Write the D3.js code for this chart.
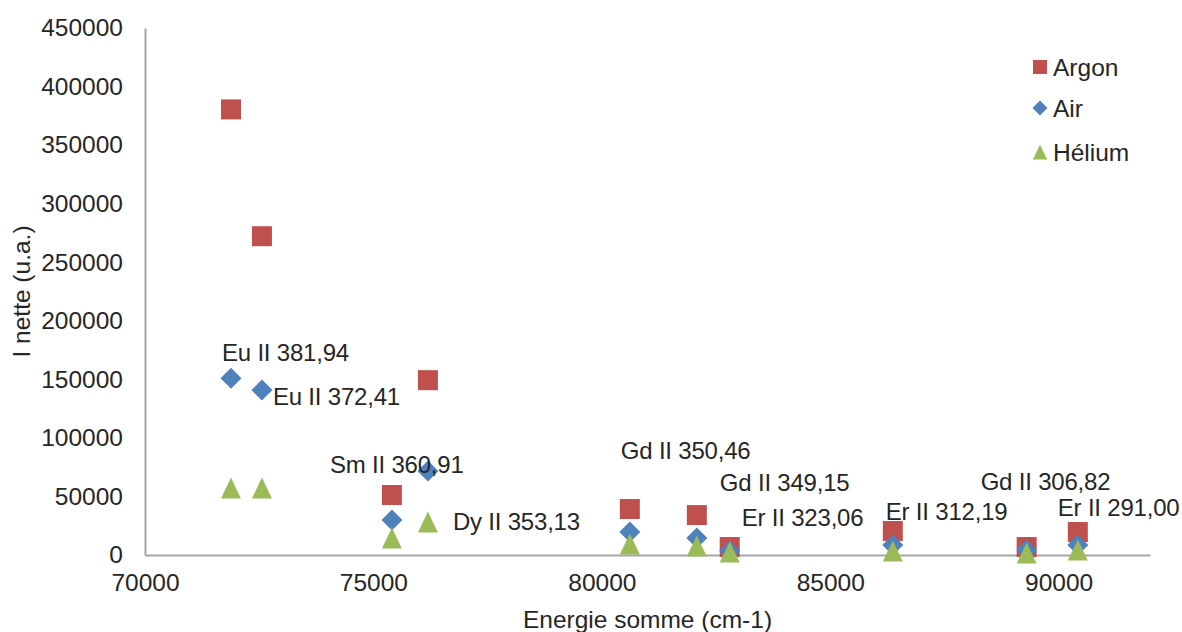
<!DOCTYPE html>
<html><head><meta charset="utf-8">
<script src="https://cdn.jsdelivr.net/npm/d3@7"></script>
<style>
html,body{margin:0;padding:0;background:#fff;}
text{font-family:"Liberation Sans",Arial,sans-serif;fill:#262626;}
</style></head>
<body><svg id="c" width="1182" height="632"></svg>
<script>
// ---- data ----
const energies = [71882, 72560, 76193, 75405, 80613, 82080, 82800, 86370, 89300, 90420];
const argon    = [380500, 272200, 149300, 51200, 39250, 34100, 6800, 20500, 6800, 19600];
const air      = [151000, 140800, 71700, 29900, 19600, 14500, 3400, 8500, 4300, 8500];
const helium   = [57200, 57200, 28200, 14500, 9400, 7700, 2500, 3400, 1700, 4300];
const lineLabels = ["Eu II 381,94", "Eu II 372,41", "Dy II 353,13", "Sm II 360,91", "Gd II 350,46",
                    "Gd II 349,15", "Er II 323,06", "Er II 312,19", "Gd II 306,82", "Er II 291,00"];
const seriesNames = ["Argon", "Air", "Hélium"];
const xTicks = [70000, 75000, 80000, 85000, 90000];
const yTicks = [0, 50000, 100000, 150000, 200000, 250000, 300000, 350000, 400000, 450000];

// ---- layout ----
const svg = d3.select("#c");
const L = 145, R = 1150, T = 28, B = 555;
const x = d3.scaleLinear().domain([70000, 92000]).range([L, R]);
const y = d3.scaleLinear().domain([0, 450000]).range([B, T]);
const FS = 24.5;
const colors = ["#C0504D", "#4F81BD", "#9BBB59"];

// marker shapes centred on their bounding box, size r = half width
function marker(type, r) {
  const p = d3.path();
  if (type === 0) { p.rect(-r, -r, 2 * r, 2 * r); }
  else if (type === 1) { p.moveTo(0, -r); p.lineTo(r, 0); p.lineTo(0, r); p.lineTo(-r, 0); p.closePath(); }
  else { p.moveTo(0, -r); p.lineTo(r * 0.95, r); p.lineTo(-r * 0.95, r); p.closePath(); }
  return p.toString();
}

// axes
const yAxis = svg.append("g").attr("transform", `translate(${L},0)`)
  .call(d3.axisLeft(y).tickValues(yTicks).tickSize(0).tickPadding(22).tickFormat(d3.format("d")));
const xAxis = svg.append("g").attr("transform", `translate(0,${B})`)
  .call(d3.axisBottom(x).tickValues(xTicks).tickSize(0).tickPadding(19).tickFormat(d3.format("d")));
[yAxis, xAxis].forEach(g => {
  g.select(".domain").attr("stroke", "#A6A6A6").attr("stroke-width", 2);
  g.selectAll("text").attr("font-size", FS).attr("font-family", '"Liberation Sans",Arial,sans-serif').attr("fill", "#262626");
});

// axis titles
svg.append("text").attr("x", (L + R) / 2).attr("y", 628).attr("text-anchor", "middle")
  .attr("font-size", FS).text("Energie somme (cm-1)");
svg.append("text").attr("transform", `translate(30,${(T + B) / 2}) rotate(-90)`).attr("text-anchor", "middle")
  .attr("font-size", FS).text("I nette (u.a.)");

// series
const series = [argon, air, helium];
const radii = [10, 10.5, 10.5];
series.forEach((vals, si) => {
  svg.append("g").selectAll("path").data(vals).join("path")
    .attr("transform", (d, i) => `translate(${x(energies[i])},${y(d)})`)
    .attr("d", marker(si, radii[si]))
    .attr("fill", colors[si]);
});

// data labels (pixel offsets from the Air point)
const labelOffsets = [[-9, -26], [11, 6], [25, 51], [-62, -55], [-9, -81], [23, -55], [12, -33], [-7, -33], [-46, -68], [-20, -37]];
svg.append("g").selectAll("text").data(lineLabels).join("text")
  .attr("x", (d, i) => x(energies[i]) + labelOffsets[i][0])
  .attr("y", (d, i) => y(air[i]) + labelOffsets[i][1])
  .attr("dy", "0.35em").attr("font-size", 24).attr("letter-spacing", -0.2).text(d => d);

// legend
const lg = svg.append("g");
seriesNames.forEach((n, i) => {
  const ly = [67, 108, 152][i];
  lg.append("path").attr("transform", `translate(1040,${ly})`)
    .attr("d", marker(i, [7, 7.5, 7.5][i])).attr("fill", colors[i]);
  lg.append("text").attr("x", 1053).attr("y", ly).attr("dy", "0.35em").attr("font-size", FS).text(n);
});
</script></body></html>
